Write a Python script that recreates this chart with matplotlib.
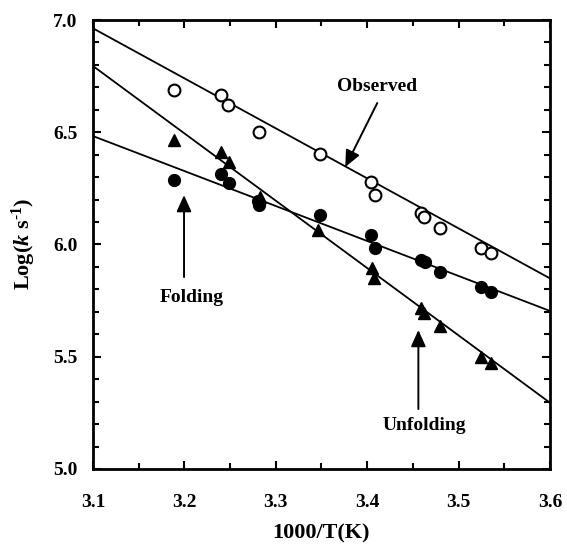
import matplotlib
matplotlib.use("Agg")
import matplotlib.pyplot as plt
import numpy as np

plt.rcParams['font.family'] = ['Liberation Serif', 'DejaVu Serif']
plt.rcParams['font.weight'] = 'bold'
plt.rcParams['mathtext.fontset'] = 'custom'
plt.rcParams['mathtext.rm'] = 'Liberation Serif:bold'
plt.rcParams['mathtext.it'] = 'Liberation Serif:bold:italic'
plt.rcParams['mathtext.bf'] = 'Liberation Serif:bold'

# data
x_obs = [3.189, 3.240, 3.248, 3.282, 3.348, 3.404, 3.408, 3.4585, 3.4625, 3.480, 3.5245, 3.536]
y_obs = [6.688, 6.666, 6.621, 6.503, 6.403, 6.280, 6.220, 6.139, 6.124, 6.075, 5.983, 5.961]

x_fold = [3.189, 3.240, 3.249, 3.282, 3.281, 3.348, 3.404, 3.408, 3.459, 3.463, 3.480, 3.5245, 3.536]
y_fold = [6.287, 6.314, 6.273, 6.176, 6.192, 6.131, 6.042, 5.983, 5.930, 5.920, 5.879, 5.809, 5.790]

x_unf = [3.189, 3.240, 3.249, 3.283, 3.346, 3.405, 3.407, 3.4585, 3.4625, 3.480, 3.5245, 3.536]
y_unf = [6.465, 6.413, 6.369, 6.213, 6.065, 5.894, 5.849, 5.716, 5.694, 5.635, 5.500, 5.470]

# fitted lines (values at x = 3.1 and x = 3.6)
fit_x = [3.1, 3.6]
fit_obs = [6.963, 5.849]
fit_fold = [6.483, 5.704]
fit_unf = [6.795, 5.295]

fig = plt.figure(figsize=(5.67, 5.48), dpi=100)
ax = fig.add_axes([0.164, 0.1442, 0.806, 0.8193])

ax.plot(fit_x, fit_obs, color='black', lw=1.3)
ax.plot(fit_x, fit_fold, color='black', lw=1.3)
ax.plot(fit_x, fit_unf, color='black', lw=1.3)

ax.plot(x_obs, y_obs, 'o', ms=8.5, mfc='white', mec='black', mew=1.5, ls='none')
ax.plot(x_fold, y_fold, 'o', ms=8.5, mfc='black', mec='black', ls='none')
ax.plot(x_unf, y_unf, '^', ms=9, mfc='black', mec='black', ls='none')

# labels with arrows
arrow = dict(arrowstyle='-|>,head_length=1.0,head_width=0.45', color='black', lw=1.4,
             shrinkA=0, shrinkB=0)
ax.annotate('', xy=(3.376, 6.345), xytext=(3.411, 6.630), arrowprops=arrow)
ax.text(3.411, 6.702, 'Observed', ha='center', va='center', fontsize=14, fontweight='bold')
ax.annotate('', xy=(3.1996, 6.22), xytext=(3.1996, 5.855), arrowprops=arrow)
ax.text(3.208, 5.766, 'Folding', ha='center', va='center', fontsize=14, fontweight='bold')
ax.annotate('', xy=(3.456, 5.619), xytext=(3.456, 5.267), arrowprops=arrow)
ax.text(3.463, 5.192, 'Unfolding', ha='center', va='center', fontsize=14, fontweight='bold')

ax.set_xlim(3.1, 3.6)
ax.set_ylim(5.0, 7.0)
ax.set_xticks(np.arange(3.1, 3.61, 0.1))
ax.set_xticks(np.arange(3.15, 3.6, 0.1), minor=True)
ax.set_yticks(np.arange(5.0, 7.01, 0.5))
ax.set_yticks(np.arange(5.0, 7.01, 0.1), minor=True)
ax.set_xticklabels(['3.1', '3.2', '3.3', '3.4', '3.5', '3.6'])
ax.set_yticklabels(['5.0', '5.5', '6.0', '6.5', '7.0'])
ax.tick_params(which='both', direction='in', top=True, right=True, width=1.5, labelsize=14)
ax.tick_params(axis='x', which='major', pad=18)
ax.tick_params(axis='y', which='major', pad=11)
ax.tick_params(which='major', length=6)
ax.tick_params(which='minor', length=4)
for s in ax.spines.values():
    s.set_linewidth(2)

ax.set_xlabel('1000/T(K)', fontsize=16, fontweight='bold', labelpad=9)
ax.set_ylabel(r'Log($\mathit{k}$ s$^{\text{-1}}$)', fontsize=16, fontweight='bold', labelpad=11)

fig.savefig('out.png', dpi=100)
